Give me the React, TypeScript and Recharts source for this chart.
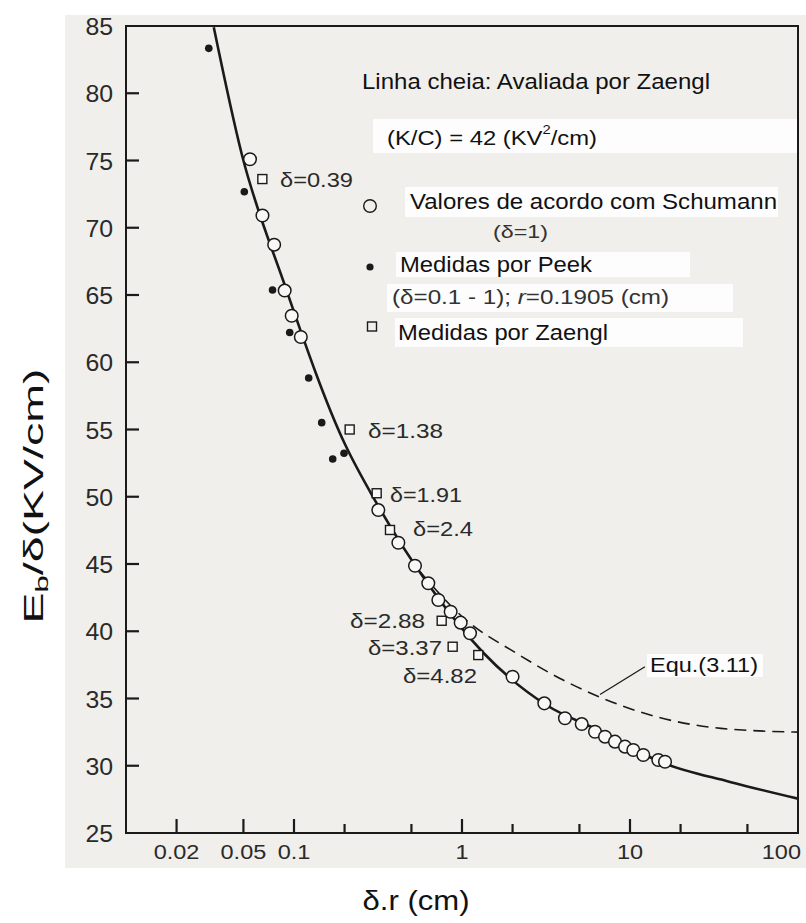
import React from 'react';
import { ComposedChart, Line, Scatter, XAxis, YAxis, ReferenceLine } from 'recharts';

// Linha cheia (Zaengl)
const solidX = [0.0333, 0.0488, 0.0866, 0.2012, 0.3077, 0.645, 1.339, 3.192, 6.336, 15.79, 39.37, 100];
const solidY = [84.9, 75.5, 66.0, 53.9, 49.6, 43.3, 38.4, 34.5, 32.7, 30.2, 28.8, 27.55];

// Equ.(3.11) – dashed
const dashX = [0.56, 1.02, 2.11, 4.0, 6.63, 14.3, 34.8, 100];
const dashY = [44.45, 41.0, 38.36, 36.37, 35.1, 33.65, 32.78, 32.5];

// Valores de acordo com Schumann (open circles)
const schX = [0.0547, 0.0649, 0.0762, 0.088, 0.0969, 0.1098, 0.3176, 0.418, 0.525, 0.63, 0.723, 0.856, 0.982, 1.116, 2.0, 3.09, 4.1, 5.16, 6.19, 7.1, 8.14, 9.34, 10.46, 12.0, 14.74, 16.16];
const schY = [75.09, 70.91, 68.74, 65.33, 63.46, 61.88, 49.01, 46.58, 44.87, 43.57, 42.32, 41.45, 40.64, 39.85, 36.62, 34.64, 33.53, 33.1, 32.53, 32.16, 31.79, 31.42, 31.17, 30.8, 30.43, 30.3];

// Medidas por Peek (filled dots)
const peekX = [0.0311, 0.0506, 0.0745, 0.0943, 0.1223, 0.1462, 0.17, 0.1985];
const peekY = [83.34, 72.68, 65.37, 62.21, 58.83, 55.51, 52.81, 53.23];

// Medidas por Zaengl (squares)
const zaeX = [0.0648, 0.2145, 0.3106, 0.3727, 0.757, 0.88, 1.25];
const zaeY = [73.62, 55.0, 50.26, 47.53, 40.78, 38.85, 38.23];
const zaeDelta = ['δ=0.39', 'δ=1.38', 'δ=1.91', 'δ=2.4', 'δ=2.88', 'δ=3.37', 'δ=4.82'];

const xTicks = [0.02, 0.05, 0.1, 0.2, 0.5, 1, 2, 5, 10, 20, 50, 100];
const xTickText = ['0.02', '0.05', '0.1', '', '', '1', '', '', '10', '', '', '100'];
const yTicks = [25, 30, 35, 40, 45, 50, 55, 60, 65, 70, 75, 80, 85];

const toPts = (xs: number[], ys: number[]) => xs.map((x, i) => ({ x, y: ys[i] }));
const solid = toPts(solidX, solidY);
const dashed = toPts(dashX, dashY);
const schumann = toPts(schX, schY);
const peek = toPts(peekX, peekY);
const zaengl = toPts(zaeX, zaeY);

const FONT = '"Liberation Sans", Arial, Helvetica, sans-serif';
const INK = '#1a1a1a';
const PAPER = '#f0efeb';

// plot box (same as the chart margins / axis sizes below)
const PL = 126;
const PR = 798;
const PT = 26;
const PB = 833;
const tickPx = (v: number) => PL + ((PR - PL) * (Math.log10(v) + 2)) / 4;
const tickPy = (v: number) => PT + ((PB - PT) * (85 - v)) / 60;

const renderXTick = (props: any) => {
  const { x, y, payload } = props;
  const label = xTickText[xTicks.indexOf(payload.value)] || '';
  if (!label) return <g />;
  const last = payload.value === 100;
  return (
    <text
      transform={`translate(${last ? x + 3 : x},${y + 19}) scale(1.12,1)`}
      textAnchor={last ? 'end' : 'middle'}
      dominantBaseline="central"
      fontSize={21}
      fontFamily={FONT}
      fill="#2a2a2a"
    >
      {label}
    </text>
  );
};

const renderYTick = (props: any) => {
  const { x, y, payload } = props;
  return (
    <text
      transform={`translate(${x - 13},${y + 1}) scale(1.08,1)`}
      textAnchor="end"
      dominantBaseline="central"
      fontSize={23}
      fontFamily={FONT}
      fill="#2a2a2a"
    >
      {payload.value}
    </text>
  );
};

const OpenCircle = (p: any) => <circle cx={p.cx} cy={p.cy} r={6.3} fill="#f8f8f6" stroke={INK} strokeWidth={1.5} />;
const Dot = (p: any) => <circle cx={p.cx} cy={p.cy} r={3.8} fill={INK} />;
const Square = (p: any) => <rect x={p.cx - 4.5} y={p.cy - 4.5} width={9} height={9} fill="#f8f8f6" stroke={INK} strokeWidth={1.4} />;

const T = ({ x, y, size, len, children, fill = '#111', anchor = 'start' }: any) => (
  <text
    x={x}
    y={y}
    fontSize={size}
    textLength={len}
    lengthAdjust="spacingAndGlyphs"
    textAnchor={anchor}
    dominantBaseline="central"
    fontFamily={FONT}
    fill={fill}
  >
    {children}
  </text>
);

// positions of the δ tags next to the squares
const deltaPos = [
  [280, 179, 73],
  [368, 430, 75],
  [390, 494, 72],
  [413, 528, 60],
  [350, 620, 75],
  [368, 647, 74],
  [403, 675, 74],
];

export default function App() {
  return (
    <div style={{ position: 'absolute', left: 0, top: 0, width: 806, height: 923, background: '#fff', overflow: 'hidden' }}>
      <svg width={806} height={923} style={{ position: 'absolute', left: 0, top: 0 }}>
        <rect x={65} y={15} width={741} height={853} fill={PAPER} />
      </svg>
      <div style={{ position: 'absolute', left: 0, top: 0 }}>
        <ComposedChart width={806} height={923} margin={{ top: PT, right: 806 - PR, bottom: 0, left: 0 }}>
          <XAxis
            type="number"
            dataKey="x"
            scale="log"
            domain={[0.01, 100]}
            allowDataOverflow
            ticks={xTicks}
            interval={0}
            tick={renderXTick}
            tickLine={false}
            axisLine={false}
            tickSize={0}
            tickMargin={0}
            height={923 - PB}
          />
          <YAxis
            type="number"
            dataKey="y"
            domain={[25, 85]}
            allowDataOverflow
            ticks={yTicks}
            interval={0}
            tick={renderYTick}
            tickLine={false}
            axisLine={false}
            tickSize={0}
            tickMargin={0}
            width={PL}
          />
          <Line data={dashed} dataKey="y" type="monotone" stroke={INK} strokeWidth={1.6} strokeDasharray="12 7" dot={false} isAnimationActive={false} />
          <Line data={solid} dataKey="y" type="monotone" stroke={INK} strokeWidth={2.6} dot={false} isAnimationActive={false} />
          <ReferenceLine segment={[{ x: 6.63, y: 35.3 }, { x: 12.27, y: 37.36 }]} stroke={INK} strokeWidth={1.3} />
          <Scatter data={peek} shape={Dot} isAnimationActive={false} />
          <Scatter data={zaengl} shape={Square} isAnimationActive={false} />
          <Scatter data={schumann} shape={OpenCircle} isAnimationActive={false} />
        </ComposedChart>
      </div>
      <svg width={806} height={923} style={{ position: 'absolute', left: 0, top: 0, pointerEvents: 'none' }}>
        <rect x={PL} y={PT} width={PR - PL} height={PB - PT} fill="none" stroke={INK} strokeWidth={2} />
        {/* inward tick marks, as in the scan */}
        {xTicks.slice(0, -1).map((v, i) => (
          <line key={`xt${v}`} x1={tickPx(v)} x2={tickPx(v)} y1={PB} y2={PB - (xTickText[i] ? 14 : 9)} stroke={INK} strokeWidth={2.2} />
        ))}
        {yTicks.slice(1, -1).map((v) => (
          <line key={`yt${v}`} x1={PL} x2={PL + 13} y1={tickPy(v)} y2={tickPy(v)} stroke={INK} strokeWidth={2.2} />
        ))}

        {/* pasted white boxes */}
        <rect x={373} y={119} width={424} height={34} fill="#fdfdfd" />
        <rect x={405} y={187} width={373} height={30} fill="#fdfdfd" />
        <rect x={396} y={252} width={294} height={25} fill="#fdfdfd" />
        <rect x={387} y={284} width={346} height={28} fill="#fdfdfd" />
        <rect x={395} y={318} width={348} height={29} fill="#fdfdfd" />
        <rect x={647} y={654} width={116} height={23} fill="#fdfdfd" />

        <T x={362} y={81} size={22} len={348}>Linha cheia: Avaliada por Zaengl</T>
        <T x={387} y={137} size={21} len={210}>
          (K/C) = 42 (KV<tspan fontSize={13} dy={-8}>2</tspan>
          <tspan dy={8}>/cm)</tspan>
        </T>
        <circle cx={370} cy={206} r={6.3} fill="none" stroke={INK} strokeWidth={1.4} />
        <T x={410} y={201} size={22} len={367}>Valores de acordo com Schumann</T>
        <T x={493} y={231} size={19} len={55} fill="#333">(δ=1)</T>
        <circle cx={370} cy={267} r={3.6} fill={INK} />
        <T x={400} y={264} size={22} len={192}>Medidas por Peek</T>
        <T x={392} y={297} size={20} len={277} fill="#333">
          (δ=0.1 - 1); <tspan fontStyle="italic">r</tspan>=0.1905 (cm)
        </T>
        <rect x={367.5} y={322} width={9} height={9} fill="none" stroke={INK} strokeWidth={1.4} />
        <T x={398} y={332} size={22} len={210}>Medidas por Zaengl</T>

        {zaeDelta.map((d, i) => (
          <T key={d} x={deltaPos[i][0]} y={deltaPos[i][1]} size={21} len={deltaPos[i][2]} fill="#2a2a2a">
            {d}
          </T>
        ))}
        <T x={650} y={665} size={20} len={108}>Equ.(3.11)</T>

        <text
          transform="translate(43,496) rotate(-90)"
          textAnchor="middle"
          fontSize={27}
          fontFamily={FONT}
          fill="#111"
          textLength={255}
          lengthAdjust="spacingAndGlyphs"
        >
          E<tspan fontSize={18} dy={5}>b</tspan>
          <tspan dy={-5}>/δ(KV/cm)</tspan>
        </text>
        <text x={416} y={900} textAnchor="middle" dominantBaseline="central" fontSize={28} fontFamily={FONT} fill="#111" textLength={107} lengthAdjust="spacingAndGlyphs">
          δ.r (cm)
        </text>
      </svg>
    </div>
  );
}
